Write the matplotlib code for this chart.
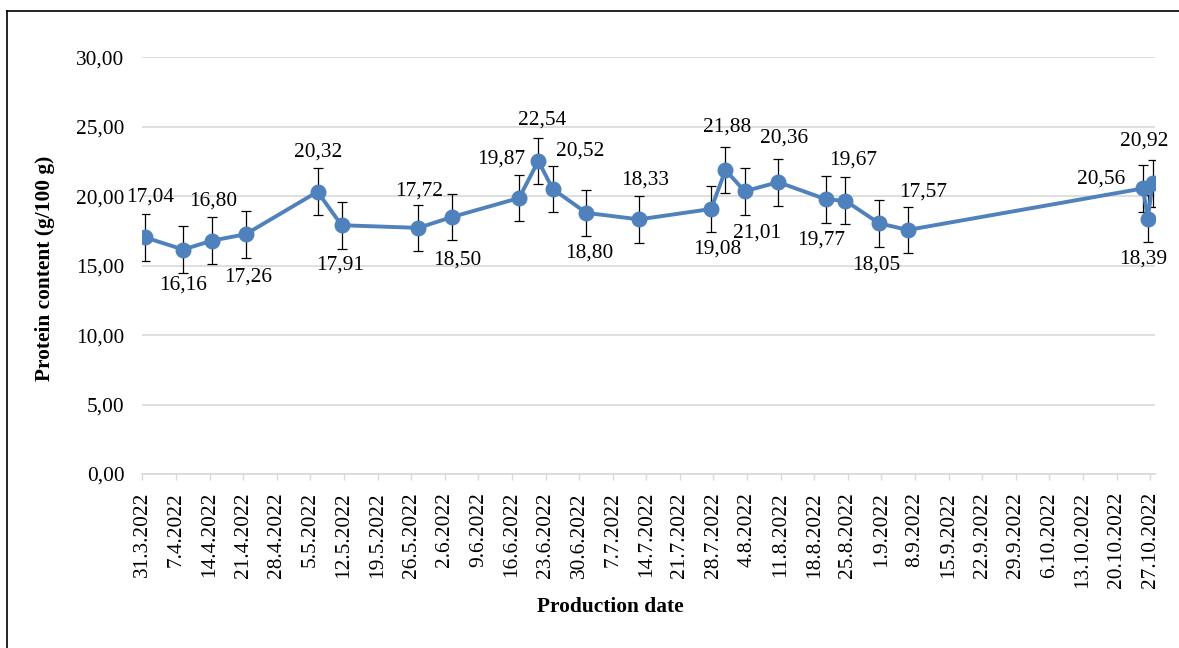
import matplotlib
matplotlib.use("Agg")
import matplotlib.pyplot as plt
import matplotlib.ticker as mticker
from matplotlib.lines import Line2D
import pandas as pd

# Production dates and measured protein content (g/100 g)
production_dates = [
    "2022-03-31", "2022-04-08", "2022-04-14", "2022-04-21", "2022-05-06", "2022-05-11",
    "2022-05-27", "2022-06-03", "2022-06-17", "2022-06-21", "2022-06-24", "2022-07-01",
    "2022-07-12", "2022-07-27", "2022-07-30", "2022-08-03", "2022-08-10", "2022-08-20",
    "2022-08-24", "2022-08-31", "2022-09-06", "2022-10-25", "2022-10-26", "2022-10-27",
]
protein = [
    17.04, 16.16, 16.80, 17.26, 20.32, 17.91,
    17.72, 18.50, 19.87, 22.54, 20.52, 18.80,
    18.33, 19.08, 21.88, 20.36, 21.01, 19.77,
    19.67, 18.05, 17.57, 20.56, 18.39, 20.92,
]
protein_sd = 1.68

axis_start = "2022-03-31"
axis_end = "2022-10-28"
tick_first = "2022-03-31"
tick_last = "2022-10-27"
y_ticks = [0, 5, 10, 15, 20, 25, 30]

# Where each value label sits relative to its marker (pixels, x right / y up)
label_offsets = [
    (5, 40), (0, -36), (1, 40), (3, -43), (1, 40), (-1, -40),
    (1, 37), (5, -43), (-18, 39), (4, 41), (27, 38), (3, -40),
    (6, 39), (6, -40), (2, 43), (39, 53), (-21, -51), (-5, -41),
    (8, 41), (-3, -42), (15, 38), (-42, 9), (-5, -40), (-8, 42),
]

BLUE = "#4F81BD"
GRID = "#D9D9D9"
FS = 15.4
plt.rcParams["font.family"] = ["Liberation Serif", "DejaVu Serif"]

fig = plt.figure(figsize=(11.79, 6.48), dpi=100)
W, H = 1179, 648
ax = fig.add_axes([142.4 / W, 1 - 474 / H, (1155 - 142.4) / W, (474 - 57.3) / H])

# each day is one slot on the date axis; marks sit in the middle of their slot
x = pd.to_datetime(production_dates) + pd.Timedelta(hours=12)

ax.errorbar(x, protein, yerr=protein_sd, fmt="none", ecolor="black",
            elinewidth=0.9, capsize=3.8, capthick=0.9, zorder=2)
ax.plot(x, protein, color=BLUE, lw=2.8, marker="o", markersize=10.5,
        markerfacecolor=BLUE, markeredgecolor=BLUE, zorder=3)

for xi, v, (dx, dy) in zip(x, protein, label_offsets):
    ax.annotate(f"{v:.2f}".replace(".", ","), (xi, v), xytext=(dx, dy),
                textcoords="offset pixels", ha="center", va="center",
                fontsize=FS, color="black", zorder=4)

ax.set_xlim(pd.Timestamp(axis_start), pd.Timestamp(axis_end))
ax.set_ylim(0, 30)

ticks = pd.date_range(tick_first, tick_last, freq="7D")
ax.set_xticks(ticks)
ax.set_xticklabels([f"{d.day}.{d.month}.{d.year}" for d in ticks],
                   rotation=90, fontsize=FS, va="top", ha="center")
ax.set_yticks(y_ticks)
ax.yaxis.set_major_formatter(mticker.FuncFormatter(lambda v, p: f"{v:.2f}".replace(".", ",")))

ax.tick_params(axis="y", length=0, pad=13, labelsize=FS)
ax.tick_params(axis="x", length=4, width=1, color=GRID, pad=9, labelsize=FS)

ax.grid(axis="y", color=GRID, lw=1.2)
ax.set_axisbelow(True)
for side in ("top", "right", "left"):
    ax.spines[side].set_visible(False)
ax.spines["bottom"].set_color(GRID)
ax.spines["bottom"].set_linewidth(1.2)

fig.text(610 / W, 1 - 607 / H, "Production date", ha="center", va="center",
         fontsize=FS, fontweight="bold")
fig.text(45 / W, 1 - 268 / H, "Protein content (g/100 g)", ha="center", va="center",
         rotation=90, fontsize=FS, fontweight="bold")

# chart frame (top and left edges)
fig.add_artist(Line2D([6.7 / W, 1], [1 - 10.7 / H, 1 - 10.7 / H],
                      transform=fig.transFigure, color="black", lw=1.2))
fig.add_artist(Line2D([6.7 / W, 6.7 / W], [0, 1 - 10.7 / H],
                      transform=fig.transFigure, color="black", lw=1.2))

fig.savefig("out.png", dpi=100)
